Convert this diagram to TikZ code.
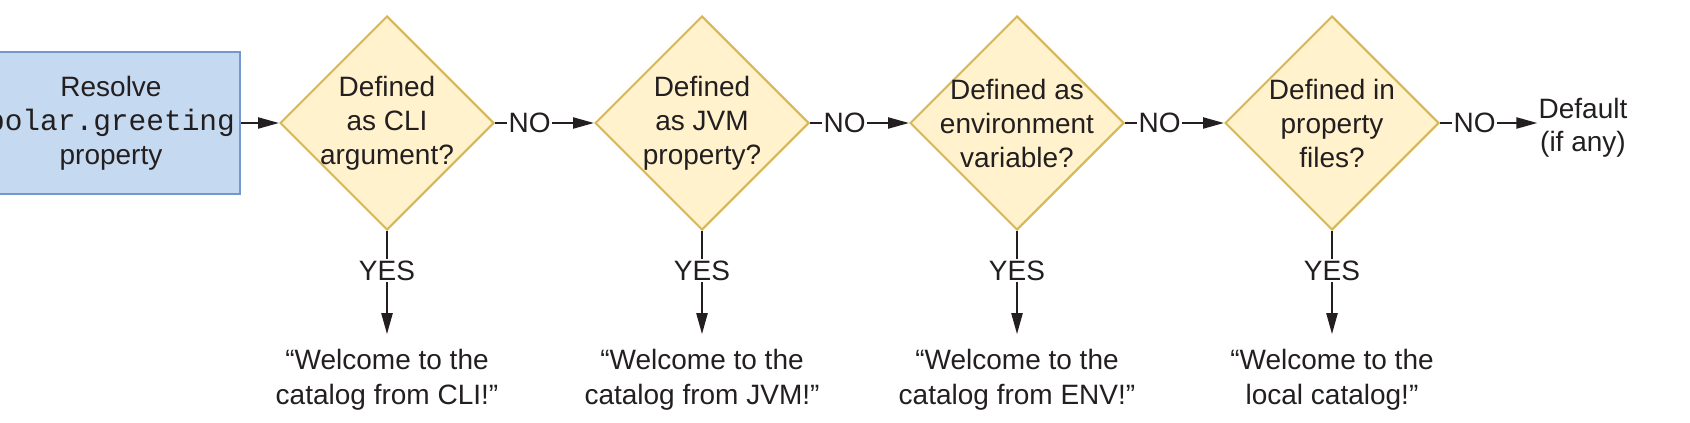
\documentclass[tikz,border=0pt]{standalone}
\usepackage{fontspec}
\setmainfont{Liberation Sans}
\setmonofont{Liberation Mono}
\usetikzlibrary{arrows.meta,positioning,shapes.geometric}
\definecolor{boxblue}{RGB}{197,217,240}
\definecolor{boxedge}{RGB}{117,151,206}
\definecolor{decfill}{RGB}{255,242,204}
\definecolor{decedge}{RGB}{214,182,86}
\definecolor{ink}{RGB}{35,31,32}
\newcommand{\bigfont}{\fontsize{28}{34}\selectfont}
\newcommand{\propname}[1]{{\fontsize{29.5}{34}\selectfont\ttfamily #1}}

\begin{document}
\begin{tikzpicture}[
    x=1pt, y=-1pt,
    every node/.style={font=\bigfont, text=ink},
    block/.style={draw=boxedge, fill=boxblue, line width=2pt,
                  minimum width=258pt, minimum height=142pt, align=center},
    decision/.style={draw=decedge, fill=decfill, diamond, line width=2pt,
                     minimum width=214pt, minimum height=214pt, inner sep=0pt},
    question/.style={align=center},
    answer/.style={inner sep=1.5pt},
    outcome/.style={align=center, inner ysep=10pt,
                    font=\fontsize{28}{35}\selectfont},
    link/.style={draw=ink, line width=2.2pt},
    arrow/.style={link, -{Triangle[length=21pt,width=11pt]}},
]
  \useasboundingbox (0,0) rectangle (1690,423);

  % Start block
  \node[block] (resolve) at (111,123)
    {Resolve\\\propname{polar.greeting}\\property};

  % Decisions
  \node[decision,right=38pt of resolve] (cli) {};
  \node[decision,right=99pt of cli] (jvm) {};
  \node[decision,right=99pt of jvm] (env) {};
  \node[decision,right=99pt of env] (files) {};
  \node[question] (cliq) at (cli) {Defined\\as CLI\\argument?};
  \node[question] (jvmq) at (jvm) {Defined\\as JVM\\property?};
  \node[question] (envq) at (env) {Defined as\\environment\\variable?};
  \node[question] (filesq) at (files) {Defined in\\property\\files?};

  % NO branch
  \node[answer,right=12pt of cli.east] (nocli) {NO};
  \node[answer,right=12pt of jvm.east] (nojvm) {NO};
  \node[answer,right=12pt of env.east] (noenv) {NO};
  \node[answer,right=12pt of files.east] (nofiles) {NO};
  \node[align=center,inner sep=1pt,right=40pt of nofiles,yshift=-5pt,
        font=\fontsize{28}{33}\selectfont] (default)
    {Default\\(if any)};

  % YES branch
  \node[answer,below=28pt of cli] (yescli) {YES};
  \node[answer,below=28pt of jvm] (yesjvm) {YES};
  \node[answer,below=28pt of env] (yesenv) {YES};
  \node[answer,below=28pt of files] (yesfiles) {YES};
  \node[outcome,below=57pt of yescli] (outcli)
    {``Welcome to the\\catalog from CLI!''};
  \node[outcome,below=57pt of yesjvm] (outjvm)
    {``Welcome to the\\catalog from JVM!''};
  \node[outcome,below=57pt of yesenv] (outenv)
    {``Welcome to the\\catalog from ENV!''};
  \node[outcome,below=57pt of yesfiles] (outfiles)
    {``Welcome to the\\local catalog!''};

  % Arrows
  \draw[arrow] (resolve) -- (cli);
  \draw[link] (cli.east) -- (nocli.west);
  \draw[arrow] (nocli.east) -- (jvm.west);
  \draw[link] (jvm.east) -- (nojvm.west);
  \draw[arrow] (nojvm.east) -- (env.west);
  \draw[link] (env.east) -- (noenv.west);
  \draw[arrow] (noenv.east) -- (files.west);
  \draw[link] (files.east) -- (nofiles.west);
  \draw[arrow] (nofiles.east) -- (default.west |- nofiles.east);
  \foreach \q in {cli,jvm,env,files} {
    \draw[link] (\q.south) -- (yes\q.north);
    \draw[arrow] (yes\q.south) -- ([yshift=5pt]out\q.north);
  }
\end{tikzpicture}
\end{document}
